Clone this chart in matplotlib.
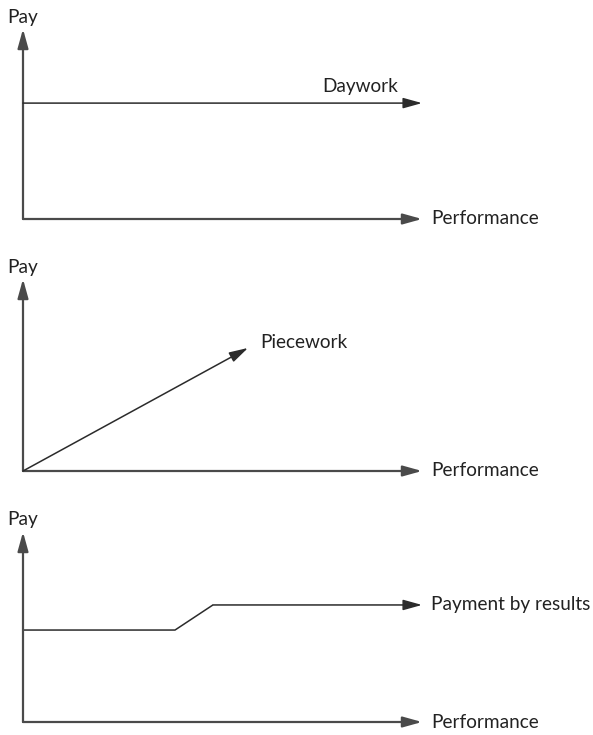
import matplotlib
matplotlib.use("Agg")
import matplotlib.pyplot as plt

plt.rcParams['font.family'] = ['Lato', 'DejaVu Sans']

W, H = 593, 735
x_label = "Performance"
y_label = "Pay"

# Panel 1: Daywork (flat)
daywork_x = [0, 10]
daywork_y = [6.1, 6.1]
# Panel 2: Piecework (proportional)
piecework_x = [0, 5.64]
piecework_y = [0, 6.41]
# Panel 3: Payment by results (step with ramp)
pbr_x = [0, 3.81, 4.76, 10]
pbr_y = [4.84, 4.84, 6.16, 6.16]

series_names = ["Daywork", "Piecework", "Payment by results"]

# pixel layout: (origin_y, tip_y)
panels = [(219, 29), (471, 279), (722, 532)]
x0_px, x1_px = 23, 422

fig = plt.figure(figsize=(W / 100, H / 100), dpi=100)

line_col = "#2b2b2b"
axis_col = "#4a4a4a"
fs = 13.7
arrow_style = "-|>,head_length=1.15,head_width=0.32"

def arrow(ax, p0, p1, col, lw):
    ax.annotate("", xy=p1, xytext=p0,
                arrowprops=dict(arrowstyle=arrow_style, color=col, lw=lw,
                                shrinkA=0, shrinkB=0, mutation_scale=10),
                annotation_clip=False)

datasets = [(daywork_x, daywork_y), (piecework_x, piecework_y), (pbr_x, pbr_y)]

for i, ((oy, ty), (xs, ys), name) in enumerate(zip(panels, datasets, series_names)):
    ax = fig.add_axes([x0_px / W, (H - oy) / H, (x1_px - x0_px) / W, (oy - ty) / H])
    ax.set_xlim(0, 10)
    ax.set_ylim(0, 10)
    ax.axis("off")
    # axes arrows
    arrow(ax, (0, 0), (0, 10), axis_col, 1.6)
    arrow(ax, (0, 0), (10, 0), axis_col, 1.6)
    # series
    if len(xs) > 2:
        ax.plot(xs[:-1], ys[:-1], color=line_col, lw=1.1, solid_capstyle="butt", clip_on=False)
    arrow(ax, (xs[-2], ys[-2]), (xs[-1], ys[-1]), line_col, 1.1)
    # labels
    ax.annotate(y_label, xy=(0, 10), xytext=(0, 12), textcoords="offset pixels",
                ha="center", va="center", fontsize=fs, color="#222222", annotation_clip=False)
    ax.annotate(x_label, xy=(10, 0), xytext=(9, 0), textcoords="offset pixels",
                ha="left", va="center", fontsize=fs, color="#222222", annotation_clip=False)
    if i == 0:
        ax.annotate(name, xy=(8.45, ys[-1]), xytext=(0, 17), textcoords="offset pixels",
                    ha="center", va="center", fontsize=fs, color="#222222", annotation_clip=False)
    elif i == 1:
        ax.annotate(name, xy=(xs[-1], ys[-1]), xytext=(12, 5), textcoords="offset pixels",
                    ha="left", va="center", fontsize=fs, color="#222222", annotation_clip=False)
    else:
        ax.annotate(name, xy=(xs[-1], ys[-1]), xytext=(9, 0), textcoords="offset pixels",
                    ha="left", va="center", fontsize=fs, color="#222222", annotation_clip=False)

fig.savefig("out.png", dpi=100, facecolor="white")
